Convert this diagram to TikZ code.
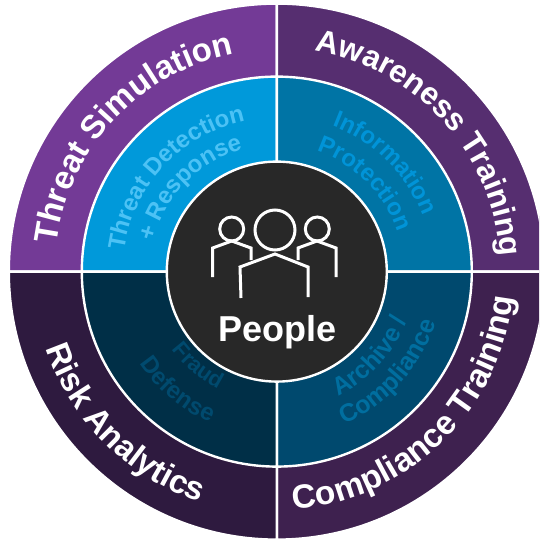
\documentclass[tikz,border=0pt]{standalone}
\usepackage{fontspec}
\setmainfont{Liberation Sans}
\usetikzlibrary{decorations.text,calc}
\definecolor{oTL}{HTML}{733A96}
\definecolor{oTR}{HTML}{562E70}
\definecolor{oBR}{HTML}{3E214F}
\definecolor{oBL}{HTML}{2E1A3F}
\definecolor{iTL}{HTML}{0099DA}
\definecolor{iTR}{HTML}{0074A5}
\definecolor{iBR}{HTML}{00496E}
\definecolor{iBL}{HTML}{002F47}
\definecolor{tTL}{HTML}{4CC2F5}
\definecolor{tTR}{HTML}{0094D8}
\definecolor{tBR}{HTML}{006E9F}
\definecolor{tBL}{HTML}{004A6E}
\definecolor{core}{HTML}{282828}
\newcommand{\arctext}[6]{% angle from, angle to, radius, size, colour, text
  \path[decorate,decoration={text along path,text align=center,
    text={|\bfseries\fontsize{#4}{#4}\selectfont\color{#5}|#6}}]
    ($(c)+(#1:#3)$) arc (#1:#2:#3);}
\tikzset{
  sector/.style={draw=white,line width=2.4pt},
  icon/.style={draw=white,line width=3pt,line join=miter},
}
\begin{document}
\begin{tikzpicture}[x=1pt,y=1pt]
\useasboundingbox (0,0) rectangle (539,-540);
\clip (0,0) rectangle (539,-540);
\coordinate (c) at (276.8,-271.6);
% outer ring
\fill[white] (0,0) rectangle (539,-540);
\foreach \a/\col in {90/oTL,0/oTR,270/oBR,180/oBL}{
  \path[sector,fill=\col] (c) -- ++(\a:268) arc (\a:\a+90:268) -- cycle;
}
% middle ring
\path[sector,fill=iTL] (c) -- ++(90:195) arc (90:180:195) -- cycle;
\path[sector,fill=iTR] (c) -- ++(0:195) arc (0:90:195) -- cycle;
\path[sector,fill=iBR] (c) -- ++(270:195) arc (270:360:195) -- cycle;
\path[sector,fill=iBL] (c) -- ++(180:195) arc (180:270:195) -- cycle;
% centre
\node[circle,draw=white,line width=2.4pt,fill=core,minimum size=220pt,inner sep=0pt] (hub) at (c) {};
% outer labels
\arctext{192}{82}{222}{33}{white}{Threat Simulation}
\arctext{97}{-13}{224}{31.5}{white}{Awareness Training}
\arctext{-101}{9}{238}{33.5}{white}{Compliance Training}
\arctext{170}{280}{243}{33}{white}{Risk Analytics}
% inner labels
\arctext{187}{87}{154}{24}{tTL}{Threat Detection}
\arctext{186}{86}{127}{24}{tTL}{+ Response}
\arctext{95}{-5}{156}{24}{tTR}{Information}
\arctext{95}{-5}{127}{24}{tTR}{Protection}
\arctext{-92}{8}{139}{25}{tBR}{Archive /}
\arctext{-92}{8}{167}{25}{tBR}{Compliance}
\arctext{180}{280}{131}{22}{tBL}{Fraud}
\arctext{180}{280}{165}{24}{tBL}{Defense}
% people icon
\draw[icon] (275,-230) circle (20);
\draw[icon] (231.7,-229) circle (12);
\draw[icon] (317.3,-229) circle (12);
\draw[icon] (241,-298) -- (240,-267) -- (275,-254) -- (308,-267) -- (308,-297);
\draw[icon] (212.7,-277) -- (212.7,-248) -- (231.7,-241) -- (251,-248) -- (251,-260);
\draw[icon] (298,-260) -- (298,-248) -- (317,-241) -- (336,-248) -- (336,-277);
\node[anchor=base,text=white,font=\bfseries\fontsize{36}{36}\selectfont,inner sep=0pt] (people) at (277.7,-341.7) {People};
\end{tikzpicture}
\end{document}
